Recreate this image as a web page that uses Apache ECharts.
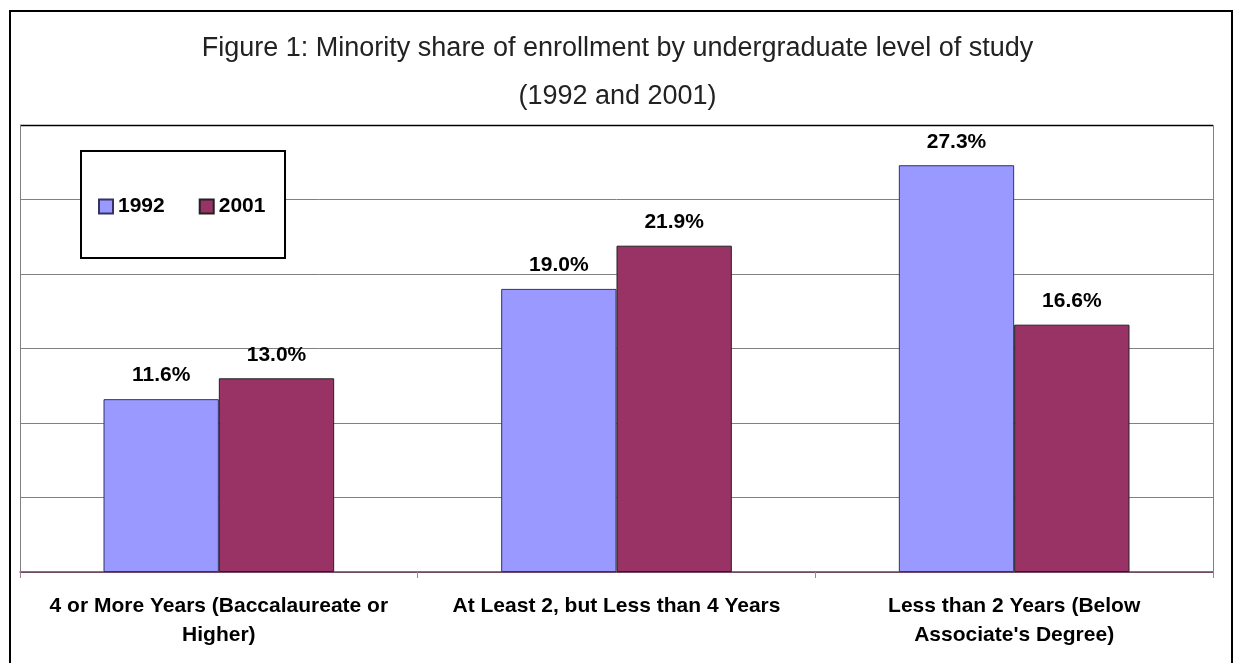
<!DOCTYPE html>
<html>
<head>
<meta charset="utf-8">
<script src="https://cdn.jsdelivr.net/npm/echarts@6/dist/echarts.min.js"></script>
<style>
html,body{margin:0;padding:0;background:#fff;}
#chart{width:1235px;height:663px;}
</style>
</head>
<body>
<div id="chart"></div>
<script>
var categories = ['4 or More Years (Baccalaureate or\nHigher)', 'At Least 2, but Less than 4 Years', 'Less than 2 Years (Below\nAssociate\'s Degree)'];
var values1992 = [11.6, 19.0, 27.3];
var values2001 = [13.0, 21.9, 16.6];
var seriesNames = ['1992', '2001'];
var titleLines = ['Figure 1: Minority share of enrollment by undergraduate level of study', '(1992 and 2001)'];

var FONT = 'Liberation Sans, Arial, sans-serif';
var chart = echarts.init(document.getElementById('chart'));
var labelOpt = {
  show: true, position: 'top', distance: 13,
  formatter: function (p) { return p.value.toFixed(1) + '%'; },
  fontFamily: FONT, fontWeight: 'bold', fontSize: 21, color: '#000'
};
chart.setOption({
  animation: false,
  backgroundColor: '#fff',
  title: {
    text: titleLines.join('\n'),
    left: 'center', top: 20,
    textStyle: { fontFamily: FONT, fontWeight: 'normal', fontSize: 27, color: '#222', lineHeight: 48 }
  },
  legend: {
    data: seriesNames,
    left: 93, top: 191, z: 20,
    itemWidth: 14, itemHeight: 14, itemGap: 34,
    icon: 'rect',
    textStyle: { fontFamily: FONT, fontWeight: 'bold', fontSize: 21, color: '#000' }
  },
  grid: { left: 20, right: 22, top: 125, bottom: 91, containLabel: false },
  xAxis: {
    type: 'category', data: categories,
    axisLine: { lineStyle: { color: '#6b3a5a', width: 1.5 } },
    axisTick: { show: true, length: 6, lineStyle: { color: '#b07a98' } },
    axisLabel: { interval: 0, margin: 20, lineHeight: 29, fontFamily: FONT, fontWeight: 'bold', fontSize: 21, color: '#000' }
  },
  yAxis: {
    type: 'value', min: 0, max: 30, interval: 5,
    axisLabel: { show: false }, axisLine: { show: false }, axisTick: { show: false },
    splitLine: { lineStyle: { color: '#808080', width: 1 } }
  },
  series: [
    { name: seriesNames[0], type: 'bar', data: values1992, barGap: '0%', barCategoryGap: '42%',
      itemStyle: { color: '#9999FF', borderColor: '#333366', borderWidth: 1 }, label: labelOpt },
    { name: seriesNames[1], type: 'bar', data: values2001,
      itemStyle: { color: '#993366', borderColor: '#222', borderWidth: 1 }, label: labelOpt }
  ],
  graphic: [
    { type: 'rect', shape: { x: 10, y: 11, width: 1222, height: 660 }, style: { fill: 'none', stroke: '#000', lineWidth: 2 }, z: 100 },
    { type: 'line', shape: { x1: 20, y1: 125.5, x2: 1213, y2: 125.5 }, style: { stroke: '#000', lineWidth: 1.5 }, z: 100 },
    { type: 'line', shape: { x1: 20.5, y1: 125, x2: 20.5, y2: 572 }, style: { stroke: '#808080', lineWidth: 1 }, z: 100 },
    { type: 'line', shape: { x1: 1213.5, y1: 125, x2: 1213.5, y2: 572 }, style: { stroke: '#808080', lineWidth: 1 }, z: 100 },
    { type: 'rect', shape: { x: 81, y: 151, width: 204, height: 107 }, style: { fill: '#fff', stroke: '#000', lineWidth: 2 }, z: 1 }
  ]
});
</script>
</body>
</html>
